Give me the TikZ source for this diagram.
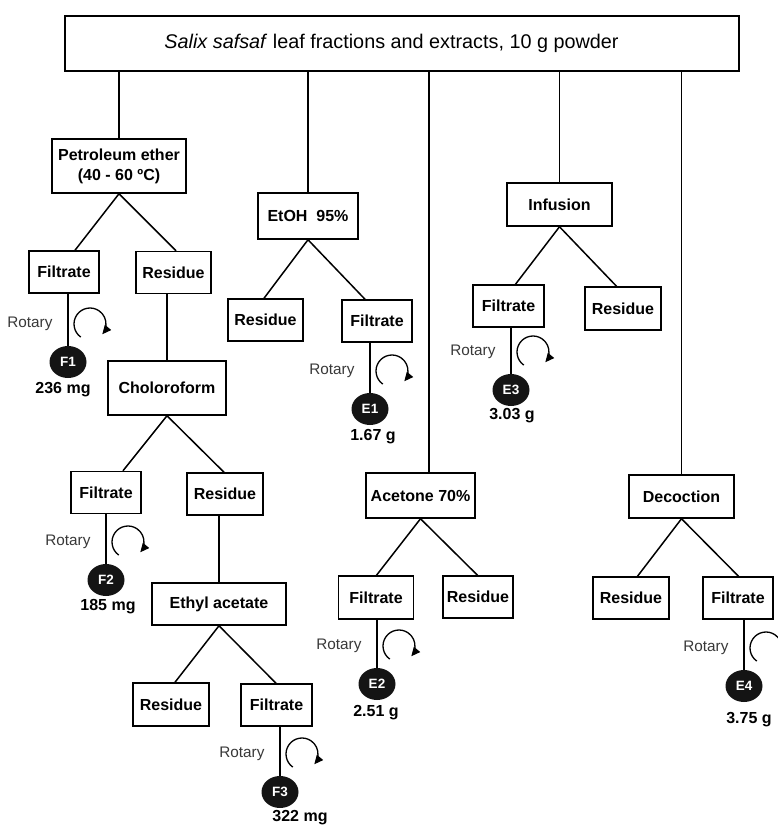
\documentclass[tikz,border=0pt]{standalone}
\usepackage{fontspec}
\setmainfont{Liberation Sans}
\usetikzlibrary{calc, arrows.meta, shapes.geometric}

\tikzset{
  stage/.style={draw, line width=1.5pt, inner sep=0pt, align=center,
    font=\bfseries\fontsize{16}{20}\selectfont},
  yield/.style={ellipse, fill=black!92, minimum width=37pt, minimum height=32pt,
    inner sep=0pt, text=white, font=\bfseries\fontsize{13.5}{14}\selectfont},
  amount/.style={font=\bfseries\fontsize{16}{18}\selectfont},
  rotlabel/.style={font=\fontsize{15.3}{18}\selectfont, text=black!78},
  link/.style={line width=1.5pt},
  spin/.style={line width=1.3pt, -{Triangle[length=9pt,width=8pt]}},
}

\begin{document}
\begin{tikzpicture}[x=1pt, y=-1pt]
  \useasboundingbox (0,0) rectangle (777,825);

  % source
  \node[stage, minimum width=674pt, minimum height=55pt, font=\fontsize{19.8}{22}\selectfont]
    (top) at (402,43.5) {\textit{Salix safsaf} leaf fractions and extracts, 10 g powder\hspace*{21pt}};

  % petroleum ether branch
  \node[stage, minimum width=134pt, minimum height=54pt] (pet) at (119,166) {Petroleum ether\\(40 - 60 ºC)};
  \node[stage, minimum width=70pt, minimum height=42pt] (fil1) at (64,272) {Filtrate};
  \node[stage, minimum width=75pt, minimum height=42pt] (res1) at (173.5,272.5) {Residue};
  \node[stage, minimum width=118pt, minimum height=54pt] (chl) at (167,388) {Choloroform};
  \node[stage, minimum width=70pt, minimum height=42pt] (fil2) at (106,492.5) {Filtrate};
  \node[stage, minimum width=76pt, minimum height=42pt] (res2) at (225,494) {Residue};
  \node[stage, minimum width=134pt, minimum height=42pt] (eth) at (219,604) {Ethyl acetate};
  \node[stage, minimum width=76pt, minimum height=43pt] (res3) at (171,704.5) {Residue};
  \node[stage, minimum width=71pt, minimum height=42pt] (fil3) at (276.5,705) {Filtrate};

  % ethanol branch
  \node[stage, minimum width=100pt, minimum height=46pt] (eto) at (308,216) {EtOH\ \ 95\%};
  \node[stage, minimum width=75pt, minimum height=42pt] (res4) at (265.5,320) {Residue};
  \node[stage, minimum width=70pt, minimum height=42pt] (fil4) at (377,321) {Filtrate};

  % acetone branch
  \node[stage, minimum width=109pt, minimum height=45pt] (ace) at (420.5,495.5) {Acetone 70\%};
  \node[stage, minimum width=75pt, minimum height=43pt] (fil5) at (376,597.5) {Filtrate};
  \node[stage, minimum width=70pt, minimum height=42pt] (res5) at (478,597) {Residue};

  % infusion branch
  \node[stage, minimum width=105pt, minimum height=43pt] (inf) at (559.5,204.5) {Infusion};
  \node[stage, minimum width=71pt, minimum height=42pt] (fil6) at (508.5,306) {Filtrate};
  \node[stage, minimum width=76pt, minimum height=43pt] (res6) at (623,308.5) {Residue};

  % decoction branch
  \node[stage, minimum width=105pt, minimum height=43pt] (dec) at (681.5,496.5) {Decoction};
  \node[stage, minimum width=76pt, minimum height=42pt] (res7) at (631,598) {Residue};
  \node[stage, minimum width=70pt, minimum height=42pt] (fil7) at (738,598) {Filtrate};

  % dried fractions and extracts
  \node[yield] (f1) at (68,362) {F1};
  \node[yield] (f2) at (106,580) {F2};
  \node[yield] (f3) at (280,792) {F3};
  \node[yield] (e1) at (370,409) {E1};
  \node[yield] (e2) at (377,684) {E2};
  \node[yield] (e3) at (511,390) {E3};
  \node[yield] (e4) at (744,686) {E4};

  \node[amount] (m1) at (63,390) {236 mg};
  \node[amount] (m2) at (108,607) {185 mg};
  \node[amount] (m3) at (300,818) {322 mg};
  \node[amount] (m4) at (373,437) {1.67 g};
  \node[amount] (m5) at (376,713) {2.51 g};
  \node[amount] (m6) at (512,416) {3.03 g};
  \node[amount] (m7) at (749,720) {3.75 g};

  % top links
  \draw[link] (top.south -| pet.north) -- (pet.north);
  \draw[link] (top.south -| eto.north) -- (eto.north);
  \draw[link] ([xshift=8.5pt]ace.north |- top.south) -- ([xshift=8.5pt]ace.north);
  \draw[link] (top.south -| inf.north) -- (inf.north);
  \draw[link] (top.south -| dec.north) -- (dec.north);

  % splits
  \foreach \p/\l/\r in {pet/fil1/res1, chl/fil2/res2, eth/res3/fil3, eto/res4/fil4,
                        ace/fil5/res5, inf/fil6/res6, dec/res7/fil7} {
    \draw[link] (\p.south) -- ([xshift=-44pt]\p.south |- \l.north);
    \draw[link] (\p.south) -- ([xshift=57pt]\p.south |- \r.north);
  }
  \draw[link] (res1.south -| chl.north) -- (chl.north);
  \draw[link] (res2.south -| eth.north) -- (eth.north);

  % rotary evaporation
  \foreach \f/\c in {fil1/f1, fil2/f2, fil3/f3, fil4/e1, fil5/e2, fil6/e3, fil7/e4} {
    \draw[link] (\f.south -| \c.north) -- (\c.north);
    \node[rotlabel, anchor=east] (r\c) at ($(\c)+(-12,-38)$) {Rotary};
    \draw[spin] ($(\c)+(22,-38)+(235:16pt)$) arc[start angle=235, end angle=-40, radius=16pt];
  }
\end{tikzpicture}
\end{document}
